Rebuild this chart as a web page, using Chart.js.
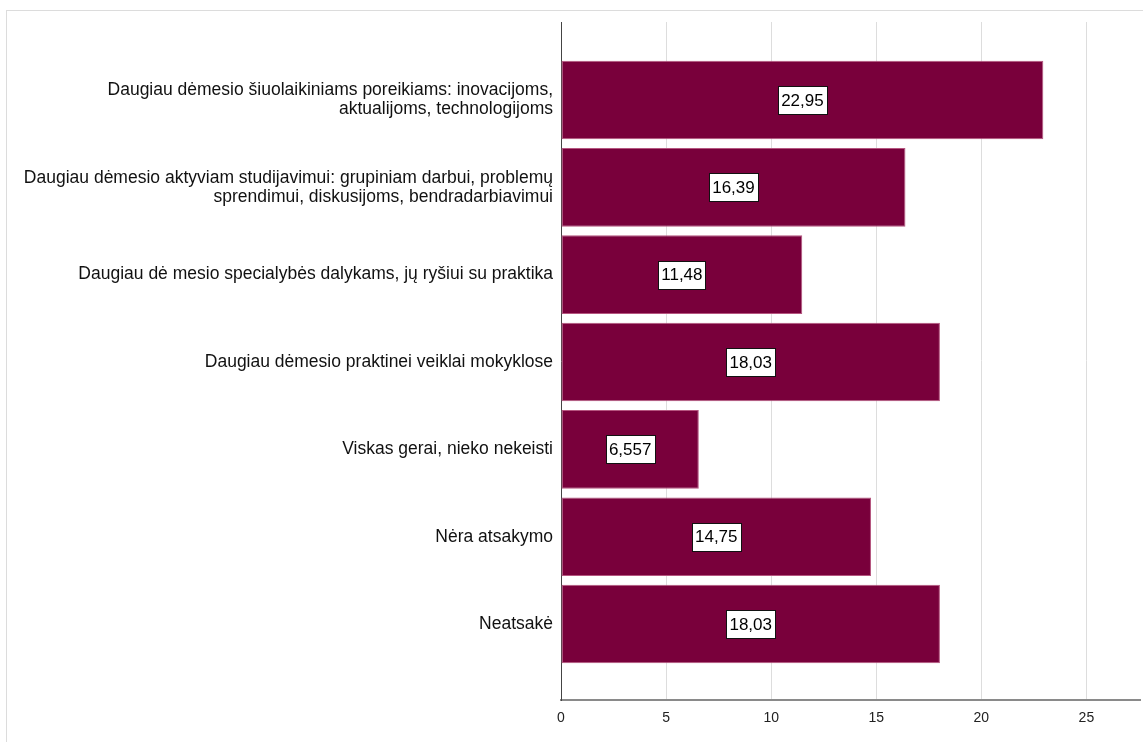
<!DOCTYPE html>
<html>
<head>
<meta charset="utf-8">
<script src="https://cdn.jsdelivr.net/npm/chart.js@4/dist/chart.umd.min.js"></script>
<style>
  body { margin: 0; background: #fff; }
  #frame { position: absolute; left: 6px; top: 10px; width: 1140px; height: 735px; border: 1px solid #dcdcdc; }
  #wrap { position: absolute; left: 0; top: 0; width: 1143px; height: 742px; }
</style>
</head>
<body>
<div id="frame"></div>
<div id="wrap"><canvas id="myChart"></canvas></div>
<script>
var categories = [
  ['Daugiau dėmesio šiuolaikiniams poreikiams: inovacijoms,', 'aktualijoms, technologijoms'],
  ['Daugiau dėmesio aktyviam studijavimui: grupiniam darbui, problemų', 'sprendimui, diskusijoms, bendradarbiavimui'],
  'Daugiau dė mesio specialybės dalykams, jų ryšiui su praktika',
  'Daugiau dėmesio praktinei veiklai mokyklose',
  'Viskas gerai, nieko nekeisti',
  'Nėra atsakymo',
  'Neatsakė'
];
var values = [22.95, 16.39, 11.48, 18.03, 6.557, 14.75, 18.03];
var xTicks = [0, 5, 10, 15, 20, 25];

// etiketes baltuose langeliuose
var boxLabels = {
  id: 'boxLabels',
  afterDatasetsDraw(chart) {
    const ctx = chart.ctx;
    const meta = chart.getDatasetMeta(0);
    ctx.save();
    ctx.font = '17px "Liberation Sans", Arial, sans-serif';
    ctx.textAlign = 'center';
    ctx.textBaseline = 'middle';
    meta.data.forEach(function (bar, i) {
      let txt = String(values[i]).replace('.', ',');
      let cx = (bar.x + bar.base) / 2;
      let cy = bar.y;
      let w = Math.round(ctx.measureText(txt).width + 6);
      let h = 28;
      let x0 = Math.round(cx - w / 2) + 0.5;
      let y0 = Math.round(cy - h / 2) + 0.5;
      ctx.fillStyle = '#fff';
      ctx.fillRect(x0, y0, w, h);
      ctx.strokeStyle = '#111';
      ctx.lineWidth = 1;
      ctx.strokeRect(x0, y0, w, h);
      ctx.fillStyle = '#000';
      ctx.fillText(txt, cx, cy + 1);
    });
    ctx.restore();
  }
};

var ctx1 = document.getElementById('myChart').getContext('2d');
var chart = new Chart(ctx1, {
  type: 'bar',
  data: {
    datasets: [{
      data: values.map(function (v, i) { return { x: v, y: i }; }),
      backgroundColor: '#79003b',
      borderColor: '#b5557f',
      borderWidth: 1,
      borderSkipped: false,
      categoryPercentage: 1,
      barPercentage: 0.9
    }]
  },
  options: {
    indexAxis: 'y',
    responsive: true,
    maintainAspectRatio: false,
    animation: false,
    layout: { padding: { top: 22, right: 3, left: 0, bottom: 0 } },
    plugins: { legend: { display: false }, tooltip: { enabled: false } },
    scales: {
      x: {
        type: 'linear',
        min: 0,
        max: 27.55,
        afterBuildTicks: function (scale) {
          scale.ticks = xTicks.map(function (v) { return { value: v }; });
        },
        afterFit: function (scale) { scale.height = 42; },
        grid: { color: '#dddddd', drawTicks: false },
        border: { color: '#8a8a8a', width: 2 },
        ticks: {
          padding: 10,
          color: '#222',
          font: { family: '"Liberation Sans", Arial, sans-serif', size: 14 }
        }
      },
      y: {
        type: 'linear',
        reverse: true,
        offset: false,
        min: -0.893,
        max: 6.87,
        afterBuildTicks: function (scale) {
          scale.ticks = categories.map(function (c, i) { return { value: i }; });
        },
        afterFit: function (scale) { scale.width = 561; },
        grid: { display: false, drawTicks: false },
        border: { color: '#444', width: 1 },
        ticks: {
          autoSkip: false,
          padding: 8,
          color: '#111',
          font: { family: '"Liberation Sans", Arial, sans-serif', size: 17.5, lineHeight: 1.09 },
          callback: function (v) { return categories[v]; }
        }
      }
    }
  },
  plugins: [boxLabels]
});
</script>
</body>
</html>
